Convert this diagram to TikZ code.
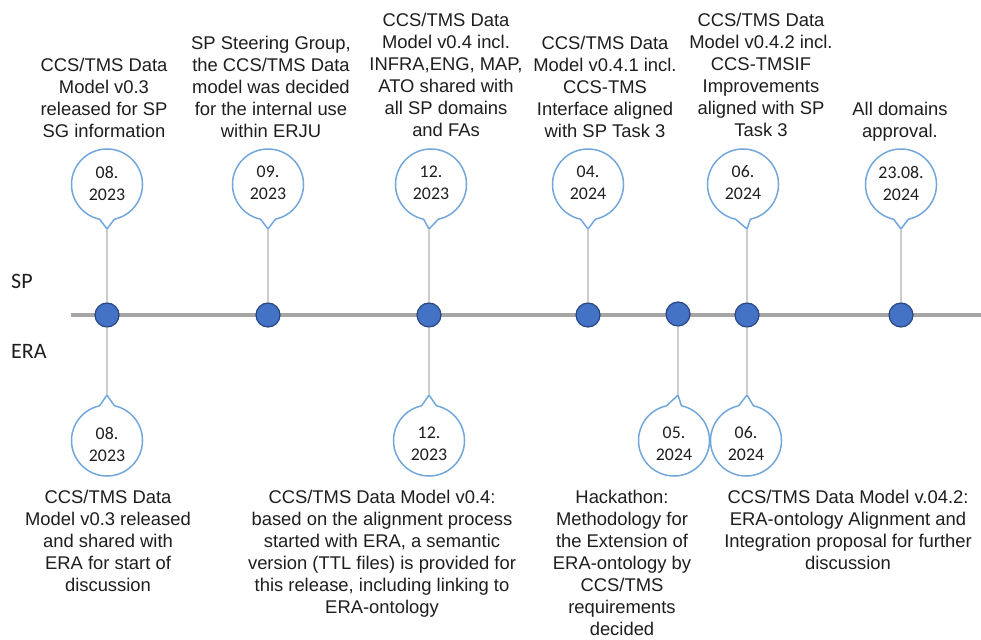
\documentclass[tikz,border=0pt]{standalone}
\usepackage{fontspec}
\setmainfont{Liberation Sans}
\newfontfamily\calfont{Carlito}
\definecolor{txt}{RGB}{30,30,30}
\definecolor{bubblec}{RGB}{114,167,220}
\definecolor{connc}{RGB}{205,205,205}
\definecolor{linec}{RGB}{166,166,166}
\definecolor{dotfill}{RGB}{68,114,196}
\definecolor{dotline}{RGB}{40,70,130}
\tikzset{
  lbl/.style={font=\fontsize{18.4}{22}\selectfont, align=center, inner sep=0pt, text=txt, anchor=north},
  datelbl/.style={font=\calfont\fontsize{17.8}{22}\selectfont, align=center, inner sep=0pt, text=txt},
  side/.style={font=\calfont\fontsize{22}{26}\selectfont, inner sep=0pt, text=txt, anchor=west},
  bubble/.style={draw=bubblec, line width=1.5pt, fill=white},
  conn/.style={draw=connc, line width=1.5pt},
  mainline/.style={draw=linec, line width=4pt},
  dotnode/.style={circle, minimum size=24pt, inner sep=0pt, fill=dotfill, draw=dotline, line width=1.2pt}
}
\newcommand{\topbubble}[4]{% name, cx, tipx, text
  \coordinate (#1tip) at (#3,229);
  \draw[bubble] (#2,184.5) ++(102:35.5) arc[start angle=102, end angle=438, radius=35.5] -- (#1tip) -- cycle;
  \node[datelbl] (#1) at (#2,183) {#4};
}
\newcommand{\botbubble}[4]{% name, cx, tipx, text
  \coordinate (#1tip) at (#3,395);
  \draw[bubble] (#2,440.5) ++(282:35.5) arc[start angle=282, end angle=618, radius=35.5] -- (#1tip) -- cycle;
  \node[datelbl] (#1) at (#2,444) {#4};
}
\begin{document}
\begin{tikzpicture}[x=1pt,y=-1pt]
\useasboundingbox (0,0) rectangle (981,639);
\fill[white] (0,0) rectangle (981,639);

% side labels
\node[side] (sp) at (11,281) {SP};
\node[side] (era) at (11,351) {ERA};

% main line
\coordinate (ls) at (71,315);
\coordinate (le) at (981,315);
\draw[mainline] (ls) -- (le);

% bubbles
\topbubble{ta}{107}{107}{08.\\2023}
\topbubble{tb}{268}{268}{09.\\2023}
\topbubble{tc}{431}{429}{12.\\2023}
\topbubble{td}{588}{588}{04.\\2024}
\topbubble{te}{743}{747}{06.\\2024}
\topbubble{tf}{901}{901}{23.08.\\2024}
\botbubble{ba}{107}{107}{08.\\2023}
\botbubble{bb}{429}{429}{12.\\2023}
\botbubble{bc}{674}{678}{05.\\2024}
\botbubble{bd}{746}{747}{06.\\2024}

% dots
\node[dotnode] (d1) at (107,315) {};
\node[dotnode] (d2) at (268,315) {};
\node[dotnode] (d3) at (429,315) {};
\node[dotnode] (d4) at (588,315) {};
\node[dotnode] (d5) at (678,314) {};
\node[dotnode] (d6) at (747,315) {};
\node[dotnode] (d7) at (901,315) {};

% connectors
\draw[conn] (tatip) -- (d1);
\draw[conn] (tbtip) -- (d2);
\draw[conn] (tctip) -- (d3);
\draw[conn] (tdtip) -- (d4);
\draw[conn] (tetip) -- (d6);
\draw[conn] (tftip) -- (d7);
\draw[conn] (d1) -- (batip);
\draw[conn] (d3) -- (bbtip);
\draw[conn] (d5) -- (bctip);
\draw[conn] (d6) -- (bdtip);

% top texts
\node[lbl] (x1) at (104,58.3) {CCS/TMS Data\\Model v0.3\\released for SP\\SG information};
\node[lbl] (x2) at (271,36.3) {SP Steering Group,\\the CCS/TMS Data\\model was decided\\for the internal use\\within ERJU};
\node[lbl] (x3) at (446,13.3) {CCS/TMS Data\\Model v0.4 incl.\\INFRA,ENG, MAP,\\ATO shared with\\all SP domains\\and FAs};
\node[lbl] (x4) at (605,36.3) {CCS/TMS Data\\Model v0.4.1 incl.\\CCS-TMS\\Interface aligned\\with SP Task 3};
\node[lbl] (x5) at (761,13.3) {CCS/TMS Data\\Model v0.4.2 incl.\\CCS-TMSIF\\Improvements\\aligned with SP\\Task 3};
\node[lbl] (x6) at (900,102.3) {All domains\\approval.};

% bottom texts
\node[lbl] (y1) at (108,490.3) {CCS/TMS Data\\Model v0.3 released\\and shared with\\ERA for start of\\discussion};
\node[lbl] (y2) at (382,490.3) {CCS/TMS Data Model v0.4:\\based on the alignment process\\started with ERA, a semantic\\version (TTL files) is provided for\\this release, including linking to\\ERA-ontology};
\node[lbl] (y3) at (622,490.3) {Hackathon:\\Methodology for\\the Extension of\\ERA-ontology by\\CCS/TMS\\requirements\\decided};
\node[lbl] (y4) at (848,490.3) {CCS/TMS Data Model v.04.2:\\ERA-ontology Alignment and\\Integration proposal for further\\discussion};
\end{tikzpicture}
\end{document}
